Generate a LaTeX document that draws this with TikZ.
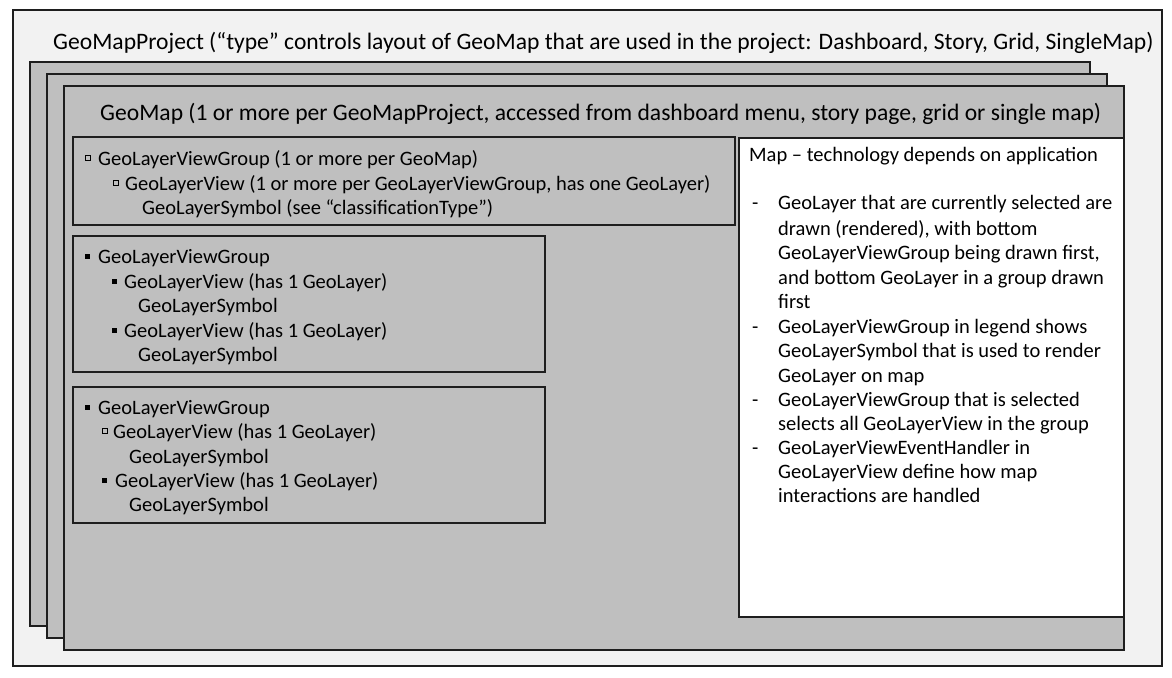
\documentclass[tikz,border=0pt]{standalone}
\usepackage{fontspec}
\setmainfont{Carlito}
\definecolor{outerfill}{HTML}{F2F2F2}
\definecolor{midgray}{HTML}{BFBFBF}
\definecolor{edge}{HTML}{1E1E1E}
\newcommand\rectnode[6][]{\node[#1,anchor=north west,inner sep=0pt,outer sep=0pt,minimum width={(#5-#3)*1pt},minimum height={(#6-#4)*1pt}] (#2) at (#3,#4) {};}
\tikzset{
  frame/.style={draw=edge, line width=1.6pt},
  outerbox/.style={frame, fill=outerfill},
  graybox/.style={frame, fill=midgray},
  whitebox/.style={frame, fill=white},
  txt/.style={anchor=base west, inner sep=0pt, font=\fontsize{20.5}{24.4}\selectfont},
  bigtxt/.style={anchor=base west, inner sep=0pt, font=\fontsize{23.6}{28}\selectfont},
  sqfill/.style={fill=black, minimum size=5pt, inner sep=0pt},
  sqhollow/.style={draw=black, line width=0.6pt, fill=midgray, minimum size=5pt, inner sep=0pt},
}
\begin{document}
\begin{tikzpicture}[x=1pt,y=-1pt]
\useasboundingbox (0,0) rectangle (1172,677);
\fill[white] (0,0) rectangle (1172,677);
% outer project frame
\rectnode[outerbox]{project}{13}{10}{1162}{666}
\node[bigtxt] (ptitle) at (53,49.5) {GeoMapProject (“type” controls layout of GeoMap that are used in the project: Dashboard, Story, Grid, SingleMap)};
% stacked maps
\rectnode[graybox]{mapback}{30}{62}{1090}{626}
\rectnode[graybox]{mapmid}{47}{74}{1107}{638}
\rectnode[graybox]{geomap}{64}{86}{1124}{650}
\node[bigtxt] (gtitle) at (100,120.5) {GeoMap (1 or more per GeoMapProject, accessed from dashboard menu, story page, grid or single map)};
% group A
\rectnode[graybox]{grpA}{73}{137}{735}{225}
\node[sqhollow] (sqA1) at (87.5,158) {};
\node[txt] (tA1) at (98,165) {GeoLayerViewGroup (1 or more per GeoMap)};
\node[sqhollow] (sqA2) at (115.5,183) {};
\node[txt] (tA2) at (125,190) {GeoLayerView (1 or more per GeoLayerViewGroup, has one GeoLayer)};
\node[txt] (tA3) at (142,214) {GeoLayerSymbol (see “classificationType”)};
% group B
\rectnode[graybox]{grpB}{73}{236}{545}{372}
\node[sqfill] (sqB1) at (87.5,256) {};
\node[txt] (tB1) at (98,263) {GeoLayerViewGroup};
\node[sqfill] (sqB2) at (114,281) {};
\node[txt] (tB2) at (124,288) {GeoLayerView (has 1 GeoLayer)};
\node[txt] (tB3) at (138,312) {GeoLayerSymbol};
\node[sqfill] (sqB3) at (114,330) {};
\node[txt] (tB4) at (124,337) {GeoLayerView (has 1 GeoLayer)};
\node[txt] (tB5) at (138,361) {GeoLayerSymbol};
% group C
\rectnode[graybox]{grpC}{73}{387}{545}{523}
\node[sqfill] (sqC1) at (87.5,407) {};
\node[txt] (tC1) at (98,414) {GeoLayerViewGroup};
\node[sqhollow] (sqC2) at (105,431) {};
\node[txt] (tC2) at (113,438) {GeoLayerView (has 1 GeoLayer)};
\node[txt] (tC3) at (129,463) {GeoLayerSymbol};
\node[sqfill] (sqC3) at (104.5,480) {};
\node[txt] (tC4) at (115,487) {GeoLayerView (has 1 GeoLayer)};
\node[txt] (tC5) at (129,511) {GeoLayerSymbol};
% map panel
\rectnode[whitebox]{mappanel}{739}{138}{1124}{617}
\node[txt] (m0) at (749,161) {Map – technology depends on application};
\node[txt] (d1) at (752,209) {-};
\node[txt] (m1) at (778,209) {GeoLayer that are currently selected are};
\node[txt] (m2) at (778,235) {drawn (rendered), with bottom};
\node[txt] (m3) at (778,259) {GeoLayerViewGroup being drawn first,};
\node[txt] (m4) at (778,284) {and bottom GeoLayer in a group drawn};
\node[txt] (m5) at (778,308) {first};
\node[txt] (d2) at (752,333) {-};
\node[txt] (m6) at (778,333) {GeoLayerViewGroup in legend shows};
\node[txt] (m7) at (778,357) {GeoLayerSymbol that is used to render};
\node[txt] (m8) at (778,382) {GeoLayer on map};
\node[txt] (d3) at (752,406) {-};
\node[txt] (m9) at (778,406) {GeoLayerViewGroup that is selected};
\node[txt] (m10) at (778,430) {selects all GeoLayerView in the group};
\node[txt] (d4) at (752,454) {-};
\node[txt] (m11) at (778,454) {GeoLayerViewEventHandler in};
\node[txt] (m12) at (778,478) {GeoLayerView define how map};
\node[txt] (m13) at (778,502) {interactions are handled};
\end{tikzpicture}
\end{document}
